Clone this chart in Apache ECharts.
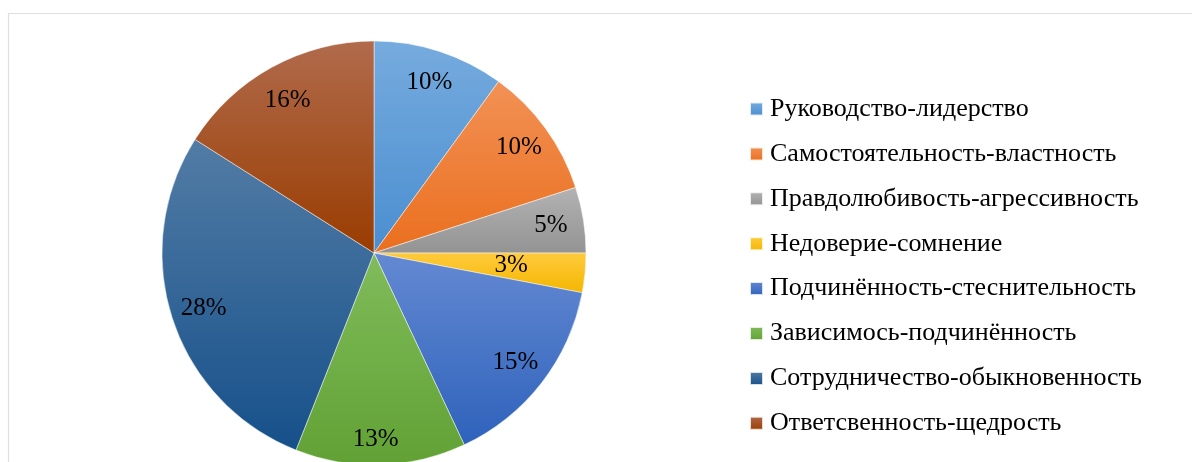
<!DOCTYPE html>
<html>
<head>
<meta charset="utf-8">
<script src="https://cdn.jsdelivr.net/npm/echarts@6/dist/echarts.min.js"></script>
<style>
html,body{margin:0;padding:0;background:#fff;}
#chart{width:1192px;height:462px;}
</style>
</head>
<body>
<div id="chart"></div>
<script>
const categories = [
  'Руководство-лидерство',
  'Самостоятельность-властность',
  'Правдолюбивость-агрессивность',
  'Недоверие-сомнение',
  'Подчинённость-стеснительность',
  'Зависимось-подчинённость',
  'Сотрудничество-обыкновенность',
  'Ответсвенность-щедрость'
];
const values = [10, 10, 5, 3, 15, 13, 28, 16];
const topColors = ['#76abde', '#f29155', '#b3b3b3', '#ffcb3d', '#6489d2', '#80bc5b', '#527ca5', '#b16b4c'];
const bottomColors = ['#4a8ed0', '#ea6f1e', '#939393', '#f4b600', '#2e62bb', '#61a134', '#16508a', '#993c00'];

const labelOffsets = { 3: [-41, -4], 5: [-4, 8], 7: [0, 4] };

const chart = echarts.init(document.getElementById('chart'), null, { renderer: 'canvas' });

const pieData = categories.map((name, i) => ({
  name: name,
  value: values[i],
  itemStyle: {
    color: new echarts.graphic.LinearGradient(0, 0, 0, 1, [
      { offset: 0, color: topColors[i] },
      { offset: 1, color: bottomColors[i] }
    ])
  }
}));

const labelData = categories.map((name, i) => ({
  name: name,
  value: values[i],
  label: labelOffsets[i] ? { offset: labelOffsets[i] } : {}
}));

chart.setOption({
  animation: false,
  backgroundColor: '#ffffff',
  graphic: [{
    type: 'rect',
    shape: { x: 8.5, y: 13.5, width: 1300, height: 600 },
    style: { fill: 'none', stroke: '#dcdfe3', lineWidth: 1.2 },
    silent: true,
    z: -10
  }],
  legend: {
    orient: 'vertical',
    left: 749,
    top: 96,
    itemWidth: 13,
    itemHeight: 13,
    itemGap: 18.9,
    icon: 'rect',
    data: categories,
    textStyle: {
      fontFamily: 'Liberation Serif',
      fontSize: 26,
      color: '#000',
      lineHeight: 26,
      padding: [0, 0, 0, 2]
    },
    selectedMode: false,
    padding: 0
  },
  series: [
    {
      type: 'pie',
      center: [374, 253],
      radius: [0, 212],
      startAngle: 90,
      clockwise: true,
      label: { show: false },
      labelLine: { show: false },
      itemStyle: { borderColor: 'rgba(255,255,255,0.8)', borderWidth: 0.6 },
      emphasis: { disabled: true },
      data: pieData
    },
    {
      type: 'pie',
      center: [374, 253],
      radius: [140, 212],
      startAngle: 90,
      clockwise: true,
      silent: true,
      itemStyle: { color: 'rgba(0,0,0,0)' },
      label: {
        show: true,
        position: 'inside',
        formatter: p => p.value + '%',
        fontFamily: 'Liberation Serif',
        fontSize: 25,
        color: '#000'
      },
      labelLine: { show: false },
      emphasis: { disabled: true },
      data: labelData
    }
  ]
});
</script>
</body>
</html>
